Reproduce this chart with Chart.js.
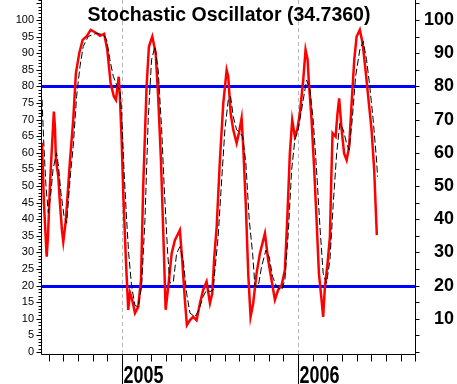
<!DOCTYPE html>
<html>
<head>
<meta charset="utf-8">
<script src="https://cdn.jsdelivr.net/npm/chart.js@4/dist/chart.umd.min.js"></script>
<style>
  html, body { margin: 0; padding: 0; background: #fff; }
  #chart { display: block; }
</style>
</head>
<body>
<canvas id="chart" width="457" height="384"></canvas>
<script>
// Positions are in months counted from January 2005 (0 = Jan 2005, 12 = Jan 2006).
const titleText = 'Stochastic Oscillator (34.7360)';

// %K (red, solid)
const kPos = [-5.45,-5.32,-5.13,-5.04,-4.91,-4.77,-4.64,-4.57,-4.50,-4.34,
  -4.23,-4.09,-4.00,-3.82,-3.54,-3.32,-3.14,-2.91,-2.68,-2.41,
  -2.13,-1.72,-1.50,-1.21,-1.00,-0.77,-0.55,-0.41,-0.22,-0.14,
  -0.02,0.09,0.27,0.43,0.55,0.70,0.89,1.11,1.30,1.45,
  1.68,1.84,2.07,2.30,2.47,2.66,2.82,2.98,3.16,3.39,
  3.61,3.95,4.11,4.29,4.43,4.64,4.86,5.09,5.32,5.54,
  5.77,6.00,6.16,6.29,6.46,6.68,6.91,7.14,7.25,7.41,
  7.59,7.82,7.98,8.16,8.27,8.45,8.61,8.77,8.95,9.18,
  9.41,9.75,9.97,10.20,10.43,10.65,10.89,11.11,11.27,11.45,
  11.61,11.79,11.95,12.13,12.36,12.52,12.66,12.75,12.93,13.11,
  13.27,13.43,13.61,13.72,13.84,14.02,14.18,14.29,14.36,14.57,
  14.70,14.81,14.98,15.15,15.32,15.49,15.66,15.84,16.00,16.22,
  16.41,16.61,16.79,17.02,17.20,17.29,17.38];
const kVal = [63,45,28.7,35,50,62,72.4,68,58,52.8,
  45,36.7,33.2,39.8,57.8,69.9,83.9,90,94,95,
  97,96,95.2,95.8,91,80.9,76.9,75.9,82.9,77,
  63.9,47.9,27.7,12.7,17.8,15.7,11.7,13.6,21.7,49.8,
  79.9,92,95,90,76.9,57.8,35.8,12.7,19.7,29.7,
  33.7,36.7,27.7,15.7,8.1,9.6,10.6,9.6,14.7,18.7,
  21.2,14.7,17.7,28.3,37.7,57.8,74.9,84.9,82.9,71.9,
  66.9,62.9,66,70.4,61.8,43.8,23.7,10.6,14.7,23.7,
  29.7,35.7,27.7,21.7,15.7,18.7,20.2,24.7,39.8,59.8,
  69.9,64.9,66.9,71.9,81.9,91,88,80.9,69.9,54.8,
  39.8,23.7,15.7,10.6,19.7,26.7,34.7,54.8,65.9,64.9,
  71.9,76.4,66.9,59.8,57.8,61.8,74.9,88,95,97,
  93,84.9,76.9,66.9,54.8,44.8,35.2];

// %D (black, dashed)
const dPos = [-5.45,-5.32,-5.18,-5.02,-4.84,-4.70,-4.45,-4.33,-4.16,-3.95,
  -3.77,-3.50,-3.32,-3.09,-2.86,-2.64,-2.30,-1.72,-1.27,-1.04,
  -0.82,-0.59,-0.32,-0.14,-0.02,0.14,0.32,0.46,0.66,0.89,
  1.11,1.34,1.57,1.79,2.02,2.25,2.47,2.71,2.88,3.12,
  3.27,3.50,3.73,3.95,4.18,4.41,4.64,4.98,5.25,5.54,
  5.77,6.00,6.22,6.34,6.56,6.80,7.02,7.25,7.41,7.59,
  7.82,8.04,8.23,8.45,8.68,8.91,9.07,9.29,9.52,9.82,
  10.04,10.27,10.55,10.89,11.11,11.34,11.57,11.79,12.02,12.13,
  12.36,12.59,12.82,13.04,13.27,13.50,13.72,13.95,14.18,14.41,
  14.64,14.86,15.09,15.32,15.49,15.70,15.93,16.22,16.45,16.68,
  16.90,17.13,17.36,17.43];
const dVal = [76,62,50,42,48,55,60,56,48,41,
  38.8,54,62,77,86,92,95,96,95.5,94,
  88,83,80,79,72,54.8,39.8,29.7,19.7,14,
  13.6,19.7,39.8,69.9,88,92,85,66.9,49.8,29.7,
  20.8,21,29.7,31.7,27.7,17.7,11.7,10.6,12.7,16.7,
  18.7,18.2,18.7,24.7,34.7,51.8,66.9,75.9,76.9,70.9,
  66.9,66,64.9,56.9,39.8,29.7,19.7,19.7,25.7,30.7,
  28.7,22.7,19.7,18.7,21.7,35.8,54.8,63.9,66.9,69.9,
  75.9,81.9,78.9,69.9,54.8,37.7,23.7,20.7,27.7,44.8,
  59.8,68.9,66.9,62.8,60.8,69.9,82.9,91,93.5,88,
  79.9,69.9,57.8,52.8];

const levels = [20, 80];
const yearLabels = ['2005', '2006'];
const yearPos = [0, 12];
const monthTicks = [-5,-4,-3,-2,-1,0,1,2,3,4,5,6,7,8,9,10,11,12,13,14,15,16,17,18,19,20];
const leftTickLabels = [0,5,10,15,20,25,30,35,40,45,50,55,60,65,70,75,80,85,90,95,100];
const rightTickLabels = [10,20,30,40,50,60,70,80,90,100];

const FONT = '"Liberation Sans", Arial, Helvetica, sans-serif';

function pairs(xs, ys) {
  return xs.map((x, i) => ({ x: x, y: ys[i] }));
}

function strokeLine(ctx, x1, y1, x2, y2) {
  ctx.beginPath();
  ctx.moveTo(x1, y1);
  ctx.lineTo(x2, y2);
  ctx.stroke();
}

// grid lines, level lines, axes, tick marks, year labels and title
const decorations = {
  id: 'decorations',
  beforeDatasetsDraw(chart) {
    const { ctx, chartArea: a, scales: { x, y } } = chart;
    ctx.save();
    ctx.strokeStyle = '#b8b8b8';
    ctx.lineWidth = 1;
    ctx.setLineDash([4, 3]);
    yearPos.forEach((m) => {
      const px = Math.round(x.getPixelForValue(m)) + 0.5;
      strokeLine(ctx, px, a.top, px, a.bottom);
    });
    ctx.setLineDash([]);
    ctx.strokeStyle = '#0000ff';
    ctx.lineWidth = 3;
    levels.forEach((v) => {
      const py = Math.round(y.getPixelForValue(v)) + 0.5;
      strokeLine(ctx, a.left, py, a.right, py);
    });
    ctx.restore();
  },
  afterDraw(chart) {
    const { ctx, chartArea: a, scales: { x, y } } = chart;
    const H = chart.height;
    ctx.save();
    ctx.strokeStyle = '#000';
    ctx.lineWidth = 1;
    const L = Math.round(a.left) - 0.5;
    const R = Math.round(a.right) - 0.5;
    const B = Math.round(a.bottom) + 0.5;
    strokeLine(ctx, L, 0, L, B);
    strokeLine(ctx, R, 0, R, B);
    strokeLine(ctx, L, B, R, B);

    // left: minor tick each unit, longer every 5
    for (let v = 0; v <= 106; v++) {
      const py = Math.round(y.getPixelForValue(v)) + 0.5;
      strokeLine(ctx, L - (v % 5 === 0 ? 5 : 3), py, L, py);
    }
    // right: tick every 5
    for (let v = 0; v <= 105; v += 5) {
      const py = Math.round(y.getPixelForValue(v)) + 0.5;
      strokeLine(ctx, R, py, R + 4, py);
    }
    // bottom: month ticks, year ticks run to the edge
    monthTicks.forEach((m) => {
      const px = Math.round(x.getPixelForValue(m)) + 0.5;
      const isYear = yearPos.indexOf(m) >= 0;
      strokeLine(ctx, px, B, px, isYear ? H : B + 7);
    });

    ctx.fillStyle = '#000';
    // year labels: tall, narrow bold digits just right of the year tick
    ctx.font = 'bold 23px ' + FONT;
    ctx.textAlign = 'left';
    ctx.textBaseline = 'alphabetic';
    yearPos.forEach((m, i) => {
      ctx.save();
      ctx.translate(Math.round(x.getPixelForValue(m)) + 1.5, 383);
      ctx.scale(0.78, 1);
      ctx.fillText(yearLabels[i], 0, 0);
      ctx.restore();
    });

    ctx.font = 'bold 19.5px ' + FONT;
    ctx.textAlign = 'center';
    ctx.fillText(titleText, (a.left + a.right) / 2, 21);
    ctx.restore();
  },
};

new Chart(document.getElementById('chart'), {
  type: 'line',
  data: {
    datasets: [
      {
        label: '%D',
        data: pairs(dPos, dVal),
        borderColor: '#000000',
        borderWidth: 1,
        borderDash: [7, 3],
        pointRadius: 0,
        tension: 0,
      },
      {
        label: '%K',
        data: pairs(kPos, kVal),
        borderColor: '#ff0000',
        borderWidth: 2.5,
        pointRadius: 0,
        tension: 0,
      },
    ],
  },
  options: {
    responsive: false,
    devicePixelRatio: 1,
    animation: false,
    layout: { padding: { left: 0, right: 3, top: 0, bottom: 0 } },
    plugins: {
      legend: { display: false },
      tooltip: { enabled: false },
      title: { display: false },
    },
    scales: {
      x: {
        type: 'linear',
        min: -5.45,
        max: 20.05,
        afterBuildTicks: (s) => { s.ticks = yearPos.map((v) => ({ value: v })); },
        afterFit: (s) => { s.height = 30; s.paddingLeft = 0; s.paddingRight = 0; },
        grid: { display: false, drawTicks: false, tickLength: 0 },
        border: { display: false },
        ticks: { display: false },
      },
      y: {
        position: 'left',
        min: -0.6,
        max: 106,
        afterBuildTicks: (s) => { s.ticks = leftTickLabels.map((v) => ({ value: v })); },
        afterFit: (s) => { s.width = 42; s.paddingTop = 0; s.paddingBottom = 0; },
        grid: { display: false, drawTicks: false, tickLength: 0 },
        border: { display: false },
        ticks: {
          autoSkip: false,
          padding: 8,
          color: '#000',
          font: { family: FONT, size: 11 },
        },
      },
      y2: {
        position: 'right',
        min: -0.6,
        max: 106,
        afterBuildTicks: (s) => { s.ticks = rightTickLabels.map((v) => ({ value: v })); },
        afterFit: (s) => { s.width = 38; s.paddingTop = 0; s.paddingBottom = 0; },
        grid: { display: false, drawTicks: false, tickLength: 0 },
        border: { display: false },
        ticks: {
          autoSkip: false,
          padding: 8,
          crossAlign: 'far',
          color: '#000',
          font: { family: FONT, size: 18, weight: 'bold' },
        },
      },
    },
  },
  plugins: [decorations],
});
</script>
</body>
</html>
